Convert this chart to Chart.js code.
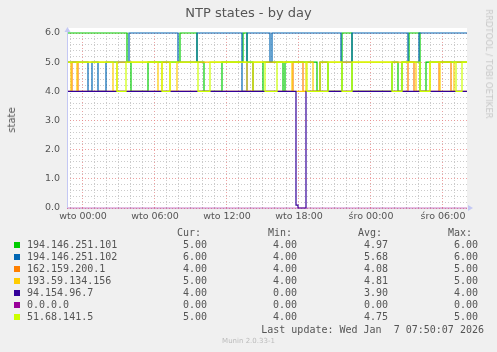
<!DOCTYPE html>
<html><head><meta charset="utf-8">
<script src="https://cdn.jsdelivr.net/npm/chart.js@4/dist/chart.umd.min.js"></script>
<style>
html,body{margin:0;padding:0;background:#f0f0f0;}
#wrap{position:relative;width:497px;height:352px;overflow:hidden;background:#f0f0f0;}
canvas{position:absolute;left:0;top:0;}
.t{position:absolute;white-space:pre;color:#555;}
.mono{font-family:"DejaVu Sans Mono",monospace;font-size:10px;line-height:12px;}
.sq{position:absolute;width:6px;height:6px;}
</style></head><body>
<div id="wrap"><canvas id="c" width="497" height="352"></canvas></div>
<script>
// time axis in hours relative to Tuesday 00:00
const xMin = -1.333, xMax = 32;
const xTickHours = [-1,0,1,2,3,4,5,6,7,8,9,10,11,12,13,14,15,16,17,18,19,20,21,22,23,24,25,26,27,28,29,30,31];
const xTickLabels = {0:'wto 00:00',6:'wto 06:00',12:'wto 12:00',18:'wto 18:00',24:'śro 00:00',30:'śro 06:00'};
const yTicks = [0,0.2,0.4,0.6,0.8,1,1.2,1.4,1.6,1.8,2,2.2,2.4,2.6,2.8,3,3.2,3.4,3.6,3.8,4,4.2,4.4,4.6,4.8,5,5.2,5.4,5.6,5.8,6];

const seriesNames = ['194.146.251.101','194.146.251.102','162.159.200.1','193.59.134.156','94.154.96.7','0.0.0.0','51.68.141.5'];
const seriesColors = ['#00CC00','#0066B3','#FF8000','#FFCC00','#330099','#990099','#CCFF00'];
const curVals = ['5.00','6.00','4.00','5.00','4.00','0.00','5.00'];
const minVals = ['4.00','4.00','4.00','4.00','0.00','0.00','4.00'];
const avgVals = ['4.97','5.68','4.08','4.81','3.90','0.00','4.75'];
const maxVals = ['6.00','6.00','5.00','5.00','4.00','0.00','5.00'];

// step change times (hours) and the value held from that time on
const t101 = [-1.333,3.667,4.0,5.417,8.083,9.5,10.083,11.583,13.333,13.667,14.167,15.0,16.667,16.833,19.5,19.75,20.417,21.583,22.417,25.75,26.25,26.583,27.167,28.083,28.583];
const v101 = [6,5,4,5,6,5,4,5,6,5,4,5,4,5,4,5,4,6,4,5,4,5,6,4,5];
const t102 = [-1.333,0.417,0.75,1.25,1.917,3.833,7.917,9.5,13.25,13.667,15.583,15.75,21.5,22.417,27.083,28.0];
const v102 = [5,4,5,4,5,6,5,6,4,6,5,6,5,6,5,6];
const t2001 = [-1.333,-0.917,-0.417,17.5,18.333,27.083,27.583,29.667,30.667];
const v2001 = [4,5,4,5,4,5,4,5,4];
const t134 = [-1.333,-1.0,-0.5,2.5,2.833,6.25,6.583,7.25,7.833,13.667,14.167,17.417,18.583,19.167,19.75,27.75,28.917,29.75,30.917];
const v134 = [5,4,5,4,5,4,5,4,5,4,5,4,5,4,5,4,5,4,5];
const t967 = [-1.333,17.75,17.917,18.583];
const v967 = [4,0.1,0,4];
const t0000 = [-1.333];
const v0000 = [0];
const t1415 = [-1.333,2.833,3.583,6.583,7.25,9.583,10.583,15.167,16.167,18.667,20.417,21.583,22.417,25.75,26.583,28.083,28.917,31.083,31.583];
const v1415 = [5,4,5,4,5,4,5,4,5,4,5,4,5,4,5,4,5,4,5];

const allT = [t101,t102,t2001,t134,t967,t0000,t1415];
const allV = [v101,v102,v2001,v134,v967,v0000,v1415];
const drawOrder = [7,6,5,4,3,2,1];

function pts(t, v){
  const p = t.map((x,i)=>({x:x,y:v[i]}));
  p.push({x:xMax, y:v[v.length-1]});
  return p;
}

const datasets = seriesNames.map((n,i)=>({
  label:n,
  data: pts(allT[i], allV[i]),
  borderColor: i===5 ? 'rgba(153,0,153,0.5)' : seriesColors[i],
  borderWidth: 1.2,
  stepped: true,
  pointRadius: 0,
  fill: false,
  clip: 4,
  order: drawOrder[i]
}));

const isInt = v => Math.abs(v - Math.round(v)) < 1e-6;

const bgPlugin = {
  id:'bg',
  beforeDraw(chart){
    const {ctx, chartArea:a} = chart;
    ctx.save();
    ctx.fillStyle = '#f0f0f0';
    ctx.fillRect(0,0,chart.width,chart.height);
    ctx.fillStyle = '#ffffff';
    ctx.fillRect(a.left, a.top-5, a.right-a.left, a.bottom-a.top+5);
    ctx.restore();
  },
  afterDraw(chart){
    const {ctx, chartArea:a} = chart;
    ctx.save();
    ctx.strokeStyle = '#c4c8f4';
    ctx.lineWidth = 1;
    ctx.beginPath();
    ctx.moveTo(a.left+0.5, a.bottom);
    ctx.lineTo(a.left+0.5, a.top-3);
    ctx.stroke();
    ctx.fillStyle = '#c4c8f4';
    ctx.beginPath();
    ctx.moveTo(a.left-2.5, a.top-1);
    ctx.lineTo(a.left+3.5, a.top-1);
    ctx.lineTo(a.left+0.5, a.top-6);
    ctx.closePath(); ctx.fill();
    ctx.beginPath();
    ctx.moveTo(a.right+1, a.bottom-3);
    ctx.lineTo(a.right+1, a.bottom+3);
    ctx.lineTo(a.right+6, a.bottom);
    ctx.closePath(); ctx.fill();
    ctx.restore();
  }
};

new Chart(document.getElementById('c'), {
  type:'line',
  data:{datasets},
  options:{
    responsive:false,
    animation:false,
    devicePixelRatio:1,
    layout:{padding:{left:0,right:30,top:33,bottom:0}},
    plugins:{legend:{display:false},tooltip:{enabled:false},title:{display:false}},
    scales:{
      x:{
        type:'linear', min:xMin, max:xMax,
        afterBuildTicks: s => { s.ticks = xTickHours.map(v=>({value:v})); },
        afterFit: s => { s.height = 144; },
        ticks:{autoSkip:false, maxRotation:0, padding:3, color:'#555',
          font:{family:'DejaVu Sans', size:9.5},
          callback: v => xTickLabels[v] || ''},
        grid:{drawTicks:false, lineWidth:1,
          color: c => (c.tick && c.tick.value % 6 === 0) ? 'rgba(230,130,130,0.75)' : 'rgba(185,185,185,0.75)'},
        border:{display:false, dash:[1,2]}
      },
      y:{
        type:'linear', min:0, max:6,
        afterBuildTicks: s => { s.ticks = yTicks.map(v=>({value:v})); },
        afterFit: s => { s.width = 67; },
        ticks:{autoSkip:false, padding:7, color:'#555',
          font:{family:'DejaVu Sans', size:9.5},
          callback: v => isInt(v) ? Number(v).toFixed(1) : ''},
        grid:{drawTicks:false, lineWidth:1,
          color: c => (c.tick && isInt(c.tick.value)) ? 'rgba(230,130,130,0.75)' : 'rgba(185,185,185,0.75)'},
        border:{display:false, dash:[1,2]}
      }
    }
  },
  plugins:[bgPlugin]
});

// HTML texts
const wrap = document.getElementById('wrap');
function addText(txt, css, cls){
  const d = document.createElement('div');
  d.className = 't ' + (cls||'');
  d.textContent = txt;
  Object.assign(d.style, css);
  wrap.appendChild(d);
  return d;
}
addText('NTP states - by day', {left:'0px', width:'497px', textAlign:'center', top:'4px', fontFamily:'DejaVu Sans', fontSize:'13px', lineHeight:'18px', color:'#555'});
addText('state', {left:'12px', top:'120px', fontFamily:'DejaVu Sans', fontSize:'10px', lineHeight:'12px', transform:'translate(-50%,-50%) rotate(-90deg)'});
addText('RRDTOOL / TOBI OETIKER', {left:'489px', top:'64px', fontFamily:'DejaVu Sans', fontSize:'8.5px', lineHeight:'10px', color:'#c8c8c8', transform:'translate(-50%,-50%) rotate(90deg)'});
const headers = [['Cur:',177],['Min:',268],['Avg:',358],['Max:',448]];
headers.forEach(h => addText(h[0], {left:h[1]+'px', top:'227px'}, 'mono'));
const cols = [curVals, minVals, avgVals, maxVals];
const colRight = [207, 297, 388, 478];
seriesNames.forEach((n,i)=>{
  const cy = 245 + 12*i;
  const sq = document.createElement('div');
  sq.className = 'sq';
  Object.assign(sq.style, {left:'14px', top:(cy-3)+'px', background:seriesColors[i]});
  wrap.appendChild(sq);
  addText(n, {left:'27px', top:(cy-6)+'px'}, 'mono');
  cols.forEach((c,j)=> addText(c[i], {right:(497-colRight[j])+'px', top:(cy-6)+'px'}, 'mono'));
});
addText('Last update: Wed Jan  7 07:50:07 2026', {right:(497-484)+'px', top:'323.5px'}, 'mono');
addText('Munin 2.0.33-1', {left:'0px', width:'497px', textAlign:'center', top:'336px', fontFamily:'DejaVu Sans', fontSize:'7px', lineHeight:'10px', color:'#bbbbbb'});
</script>
</body></html>
